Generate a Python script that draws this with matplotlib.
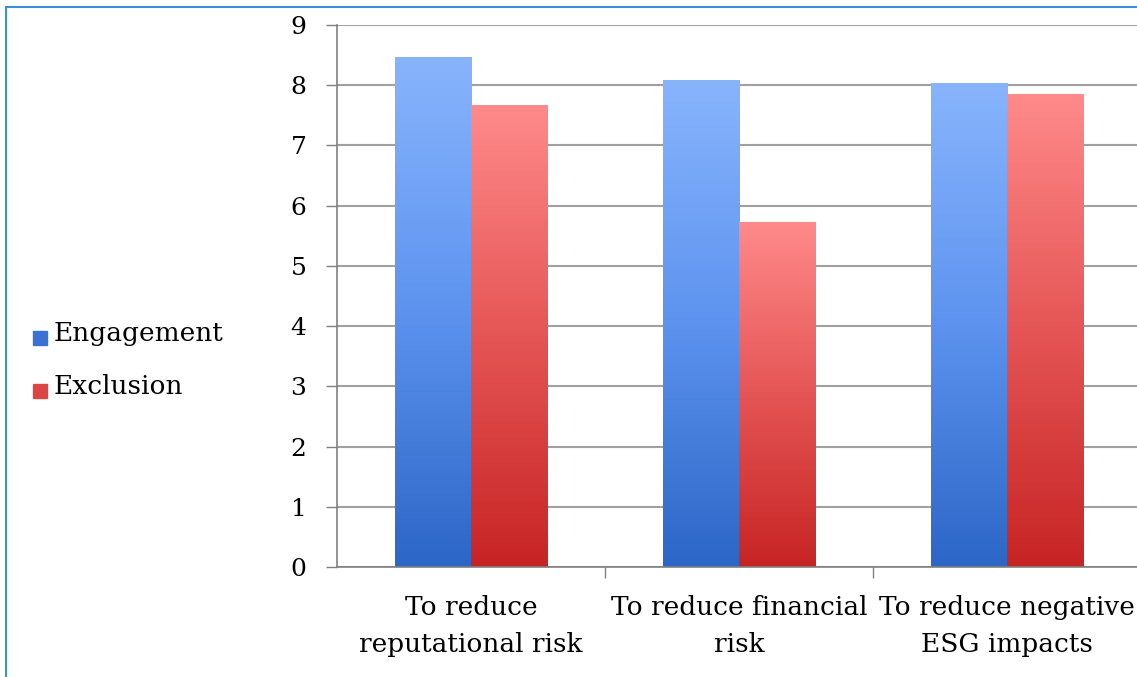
import numpy as np
import matplotlib.pyplot as plt
from matplotlib.colors import LinearSegmentedColormap
from matplotlib.patches import Rectangle

categories = ["To reduce\nreputational risk", "To reduce financial\nrisk", "To reduce negative\nESG impacts"]
engagement = [8.47, 8.09, 8.03]
exclusion = [7.67, 5.73, 7.85]
yticks = [0, 1, 2, 3, 4, 5, 6, 7, 8, 9]

plt.rcParams['font.family'] = ['DejaVu Serif']

fig = plt.figure(figsize=(11.37, 6.77), dpi=100)
ax = fig.add_axes([337/1137, 1-567/677, 804/1137, 542/677])

blue_cm = LinearSegmentedColormap.from_list("b", ["#2c66c6", "#5d93ef", "#88b4fc"])
red_cm = LinearSegmentedColormap.from_list("r", ["#c72424", "#e55555", "#ff8a8a"])

x = np.arange(len(categories))
w = 0.284

def grad_bars(xs, vals, cmap):
    bars = ax.bar(xs, vals, w, color="none", edgecolor="none", zorder=3)
    for b in bars:
        x0, y0 = b.get_x(), b.get_y()
        h = b.get_height()
        grad = np.linspace(0, 1, 256).reshape(-1, 1)
        im = ax.imshow(grad, cmap=cmap, origin="lower", aspect="auto",
                       extent=[x0, x0 + b.get_width(), y0, y0 + h], zorder=3)
        im.set_clip_path(b)
    return bars

grad_bars(x - w/2, engagement, blue_cm)
grad_bars(x + w/2, exclusion, red_cm)

ax.set_xlim(-0.5, 2.5)
ax.set_ylim(0, 9)
ax.set_yticks(yticks)
ax.yaxis.grid(True, color="#a0a0a0", linewidth=1.5, zorder=0)
ax.set_axisbelow(True)

# category labels centred, ticks on the boundaries
ax.set_xticks(x)
ax.set_xticklabels(categories, fontsize=19, linespacing=1.6)
ax.tick_params(axis="x", length=0, pad=20)
ax.set_xticks([0.5, 1.5], minor=True)
ax.tick_params(axis="x", which="minor", length=8, color="#808080", width=1)
ax.tick_params(axis="y", labelsize=18, length=8, color="#808080", width=1, pad=14)

for s in ["top", "right"]:
    ax.spines[s].set_visible(False)
for s in ["left", "bottom"]:
    ax.spines[s].set_color("#808080")
    ax.spines[s].set_linewidth(1.2)
ax.spines["bottom"].set_zorder(4)

# legend on the left
for yy, col, lab in [(333, "#3a72d4", "Engagement"), (386, "#dd4444", "Exclusion")]:
    fig.patches.append(Rectangle((33/1137, 1-(yy+12)/677), 14/1137, 14/677,
                                 transform=fig.transFigure, color=col))
    fig.text(54/1137, 1-yy/677, lab, fontsize=19, va="center", ha="left")

# outer frame
fig.patches.append(Rectangle((6/1137, -0.01), 1.02, 1-7/677+0.01, transform=fig.transFigure,
                             fill=False, edgecolor="#3d8fd8", linewidth=1.5))

fig.savefig("out.png", dpi=100)
